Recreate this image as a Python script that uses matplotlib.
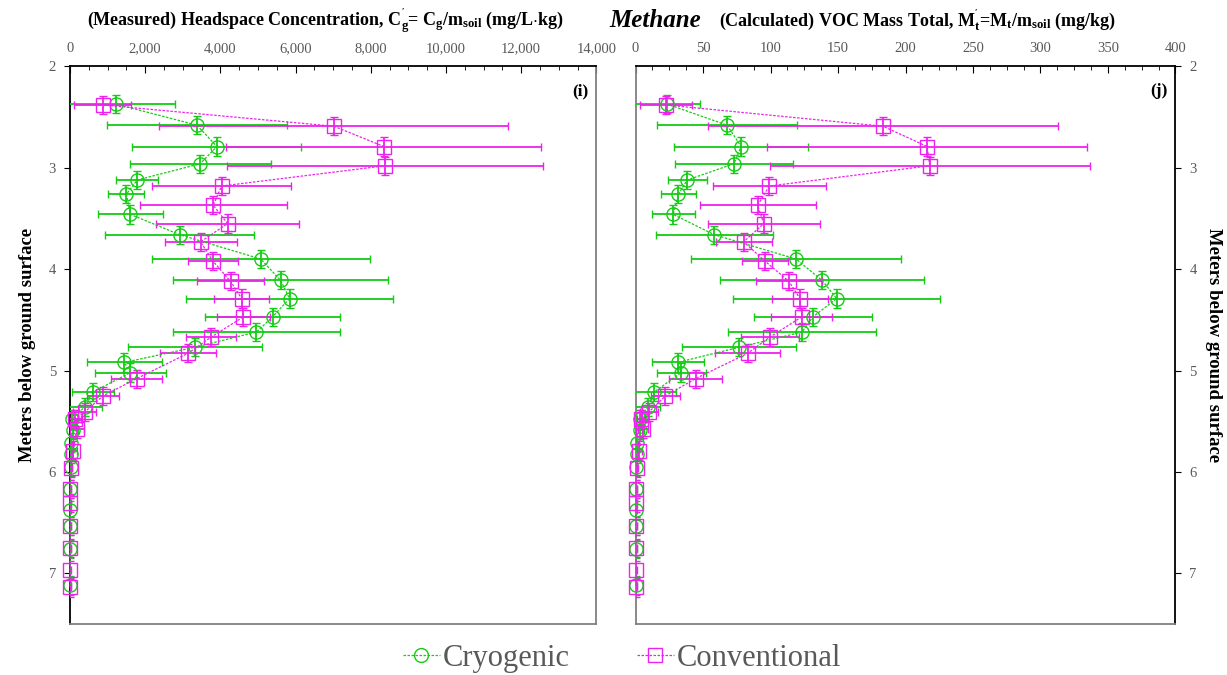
import matplotlib.pyplot as plt
import matplotlib.ticker as mticker
from matplotlib.lines import Line2D

plt.rcParams['font.family'] = 'Liberation Serif'
plt.rcParams['mathtext.fontset'] = 'custom'
plt.rcParams['mathtext.rm'] = 'Liberation Serif'
plt.rcParams['mathtext.bf'] = 'Liberation Serif:bold'
plt.rcParams['mathtext.it'] = 'Liberation Serif:italic'

# sample depths (m below ground surface)
depth_cryo = [2.37, 2.58, 2.79, 2.96, 3.12, 3.26, 3.46, 3.66, 3.90, 4.11, 4.29, 4.47, 4.62, 4.77,
              4.92, 5.02, 5.21, 5.36, 5.48, 5.59, 5.71, 5.82, 5.95, 6.17, 6.38, 6.53, 6.76, 7.12]
depth_conv = [2.38, 2.59, 2.79, 2.98, 3.18, 3.37, 3.55, 3.73, 3.92, 4.12, 4.29, 4.47, 4.67, 4.83,
              5.08, 5.25, 5.41, 5.48, 5.58, 5.79, 5.96, 6.17, 6.31, 6.53, 6.75, 6.97, 7.14]
depth_err = 0.09

# headspace concentration Cg' (mg/L.kg)
cg_cryo = [1216, 3380, 3907, 3467, 1791, 1503, 1609, 2921, 5075, 5602, 5841, 5391, 4960, 3323,
           1446, 1609, 622, 390, 60, 90, 30, 20, 15, 8, 5, 5, 5, 5]
cg_cryo_err = [1590, 2394, 2245, 1882, 555, 479, 871, 1987, 2897, 2854, 2748, 1800, 2212, 1772,
               1001, 938, 555, 450, 150, 120, 60, 40, 30, 20, 15, 15, 15, 15]
cg_conv = [871, 7019, 8350, 8379, 4032, 3811, 4194, 3476, 3802, 4271, 4568, 4616, 3754, 3141,
           1772, 881, 390, 133, 177, 89, 27, 8, 5, 5, 5, 5, 5]
cg_conv_err = [757, 4644, 4190, 4190, 1858, 1949, 1896, 958, 670, 886, 728, 700, 656, 733,
               670, 431, 300, 150, 200, 100, 40, 20, 15, 15, 15, 15, 15]

# VOC mass total Mt' (mg/kg)
mt_cryo = [23.1, 67.8, 78.2, 72.9, 38.3, 31.7, 27.9, 58.3, 118.9, 138.1, 149.0, 131.4, 123.4, 76.9,
           31.1, 33.8, 14.0, 9.0, 3.0, 3.5, 1.0, 0.8, 0.5, 0.3, 0.2, 0.2, 0.2, 0.2]
mt_cryo_err = [24.6, 51.9, 49.5, 44.0, 14.4, 13.2, 16.0, 43.5, 78.1, 75.9, 76.7, 44.0, 54.8, 42.2,
               19.3, 18.2, 15.7, 9.3, 3.0, 3.0, 1.5, 1.0, 0.8, 0.5, 0.5, 0.5, 0.5, 0.5]
mt_conv = [22.3, 183.3, 216.0, 217.9, 99.0, 90.4, 95.0, 80.1, 95.8, 113.6, 121.8, 123.2, 99.5, 83.0,
           44.4, 22.1, 9.8, 4.2, 5.4, 2.5, 0.8, 0.3, 0.2, 0.2, 0.2, 0.2, 0.2]
mt_conv_err = [19.3, 129.7, 118.8, 118.5, 41.9, 43.0, 41.5, 20.6, 17.3, 24.2, 21.1, 22.6, 21.7, 23.9,
               19.6, 10.6, 6.7, 3.0, 3.5, 2.0, 1.0, 0.5, 0.5, 0.5, 0.5, 0.5, 0.5]

green = '#14cc14'
magenta = '#ee22ee'
grey = '#595959'
dotted = (0, (2, 1.2))

fig = plt.figure(figsize=(12.27, 6.75), dpi=100)
ax1 = fig.add_axes([0.057, 0.0756, 0.429, 0.826])
ax2 = fig.add_axes([0.518, 0.0756, 0.440, 0.826])


def draw(ax, xc, xc_err, xv, xv_err):
    for x, xe, d, mk, c in [(xc, xc_err, depth_cryo, 'o', green),
                            (xv, xv_err, depth_conv, 's', magenta)]:
        line, caps, bars = ax.errorbar(x, d, xerr=xe, yerr=depth_err, fmt=mk, ms=9.5, mfc='none',
                                       mec=c, mew=1.0, color=c, ecolor=c, elinewidth=1.3,
                                       capsize=3, capthick=1.3, ls=dotted, lw=0.9, zorder=3)
        line.set_clip_on(False)
    ax.set_ylim(7.5, 2)
    ax.xaxis.tick_top()
    ax.tick_params(axis='x', which='both', direction='in', top=True, bottom=False,
                   labelsize=10.5, labelcolor=grey, pad=8)
    ax.tick_params(axis='x', which='major', length=5)
    ax.tick_params(axis='x', which='minor', length=3)
    ax.tick_params(axis='y', direction='out', length=4, labelsize=10.5, labelcolor=grey, pad=6)
    ax.set_yticks([2, 3, 4, 5, 6, 7])
    for s in ax.spines.values():
        s.set_linewidth(1.3)


draw(ax1, cg_cryo, cg_cryo_err, cg_conv, cg_conv_err)
ax1.set_xlim(0, 14000)
ax1.xaxis.set_major_locator(mticker.MultipleLocator(2000))
ax1.xaxis.set_minor_locator(mticker.MultipleLocator(500))
ax1.xaxis.set_major_formatter(mticker.StrMethodFormatter('{x:,.0f}'))
ax1.spines['right'].set_color('#808080')
ax1.spines['bottom'].set_color('#808080')
ax1.set_ylabel('Meters below ground surface', fontsize=13.5, fontweight='bold', labelpad=9)
ax1.text(0.985, 0.97, '(i)', transform=ax1.transAxes, ha='right', va='top',
         fontsize=12.5, fontweight='bold')

draw(ax2, mt_cryo, mt_cryo_err, mt_conv, mt_conv_err)
ax2.set_xlim(0, 400)
ax2.xaxis.set_major_locator(mticker.MultipleLocator(50))
ax2.xaxis.set_minor_locator(mticker.MultipleLocator(12.5))
ax2.yaxis.tick_right()
ax2.yaxis.set_label_position('right')
ax2.spines['left'].set_color('#808080')
ax2.spines['bottom'].set_color('#808080')
ax2.set_ylabel('Meters below ground surface', fontsize=13.5, fontweight='bold',
               rotation=270, labelpad=18)
ax2.text(0.985, 0.97, '(j)', transform=ax2.transAxes, ha='right', va='top',
         fontsize=12.5, fontweight='bold')

fig.text(0.265, 0.970,
         r"(Measured) Headspace Concentration, $\mathbf{C}_{\mathbf{g}}^{\mathbf{'}}$= "
         r"$\mathbf{C}_{\mathbf{g}}\mathbf{/m}_{\mathbf{soil}}$ (mg/L$\mathbf{\cdot}$kg)",
         ha='center', va='center', fontsize=13, fontweight='bold')
fig.text(0.534, 0.970, 'Methane', ha='center', va='center', fontsize=18,
         fontweight='bold', style='italic')
fig.text(0.748, 0.970,
         r"(Calculated) VOC Mass Total, $\mathbf{M}_{\mathbf{t}}^{\mathbf{'}}$="
         r"$\mathbf{M}_{\mathbf{t}}\mathbf{/m}_{\mathbf{soil}}$ (mg/kg)",
         ha='center', va='center', fontsize=13, fontweight='bold')

handles = [
    Line2D([], [], color=green, ls=dotted, lw=0.9, marker='o', ms=10, mfc='none', mec=green),
    Line2D([], [], color=magenta, ls=dotted, lw=0.9, marker='s', ms=10, mfc='none', mec=magenta),
]
leg = fig.legend(handles, ['Cryogenic', 'Conventional'], loc='center', bbox_to_anchor=(0.507, 0.025),
                 ncol=2, frameon=False, fontsize=22, handlelength=1.2, handletextpad=0.1,
                 columnspacing=2.2)
for t in leg.get_texts():
    t.set_color(grey)

fig.savefig('out.png', dpi=100)
